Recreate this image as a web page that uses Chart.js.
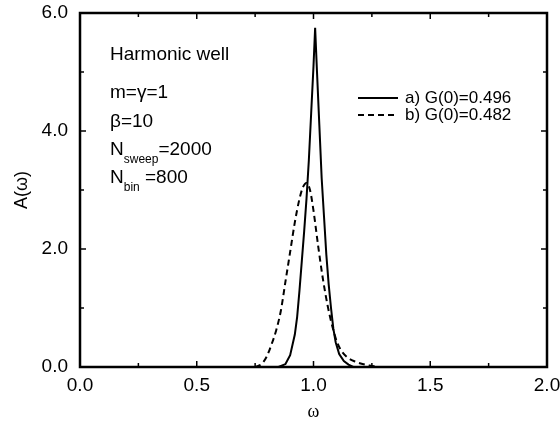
<!DOCTYPE html>
<html>
<head>
<meta charset="utf-8">
<script src="https://cdn.jsdelivr.net/npm/chart.js@4/dist/chart.umd.min.js"></script>
<style>
  html, body { margin: 0; padding: 0; background: #fff; }
  #wrap { width: 560px; height: 421px; }
</style>
</head>
<body>
<div id="wrap"><canvas id="spectrum" width="560" height="421"></canvas></div>
<script>
  // curve a) solid, G(0)=0.496
  const omegaA  = [0.75, 0.85, 0.88, 0.90, 0.92, 0.93, 0.94, 0.95, 0.96, 0.97, 0.98, 0.99, 1.00, 1.007,
                   1.015, 1.025, 1.035, 1.045, 1.055, 1.065, 1.075, 1.085, 1.095, 1.11, 1.13, 1.15, 1.17, 1.30];
  const valuesA = [0.00, 0.00, 0.05, 0.20, 0.55, 0.85, 1.30, 1.80, 2.30, 2.85, 3.50, 4.30, 5.10, 5.75,
                   5.00, 4.10, 3.20, 2.55, 1.90, 1.40, 1.00, 0.65, 0.42, 0.22, 0.10, 0.04, 0.00, 0.00];

  // curve b) dashed, G(0)=0.482
  const omegaB  = [0.75, 0.78, 0.80, 0.82, 0.84, 0.86, 0.88, 0.90, 0.92, 0.94, 0.955, 0.97, 0.985, 1.00,
                   1.02, 1.04, 1.06, 1.08, 1.10, 1.12, 1.15, 1.18, 1.21, 1.24, 1.28];
  const valuesB = [0.00, 0.06, 0.18, 0.38, 0.62, 0.95, 1.45, 1.95, 2.45, 2.85, 3.05, 3.12, 3.00, 2.65,
                   2.05, 1.50, 1.05, 0.70, 0.43, 0.27, 0.15, 0.09, 0.05, 0.025, 0.00];

  const seriesLabels = ['a) G(0)=0.496', 'b) G(0)=0.482'];
  const xLabelled = [0, 0.5, 1.0, 1.5, 2.0];
  const yLabelled = [0, 2, 4, 6];

  // text block in the upper left: [main, subscript, rest]
  const notes = [
    ['Harmonic well', '', ''],
    ['m=\u03b3=1', '', ''],
    ['\u03b2=10', '', ''],
    ['N', 'sweep', '=2000'],
    ['N', 'bin', ' =800']
  ];

  const FONT = '"Liberation Sans", Arial, Helvetica, sans-serif';

  function toPoints(xs, ys) {
    return xs.map((x, i) => ({ x: x, y: ys[i] }));
  }

  // no automatic label overhang, the layout padding alone places the frame
  function noOverhang(s) {
    s.paddingLeft = 0; s.paddingRight = 0; s.paddingTop = 0; s.paddingBottom = 0;
  }

  // plot box taken from the scales themselves
  function plotBox(chart) {
    const sx = chart.scales.x, sy = chart.scales.y;
    return {
      left: sx.getPixelForValue(sx.min),
      right: sx.getPixelForValue(sx.max),
      top: sy.getPixelForValue(sy.max),
      bottom: sy.getPixelForValue(sy.min)
    };
  }

  // inward tick marks + heavy frame
  const frameAndTicks = {
    id: 'frameAndTicks',
    afterDraw(chart) {
      const c = chart.ctx;
      const a = plotBox(chart);
      const sx = chart.scales.x, sy = chart.scales.y;
      c.save();
      c.strokeStyle = '#000';
      c.lineWidth = 1.5;
      const seg = (x1, y1, x2, y2) => {
        c.beginPath(); c.moveTo(x1, y1); c.lineTo(x2, y2); c.stroke();
      };
      sx.ticks.forEach(t => {
        const px = sx.getPixelForValue(t.value);
        const len = xLabelled.includes(t.value) ? 6 : 4;
        seg(px, a.bottom, px, a.bottom - len);
        seg(px, a.top, px, a.top + len);
      });
      sy.ticks.forEach(t => {
        const py = sy.getPixelForValue(t.value);
        const len = yLabelled.includes(t.value) ? 6 : 4;
        seg(a.left, py, a.left + len, py);
        seg(a.right, py, a.right - len, py);
      });
      c.lineWidth = 2.5;
      c.strokeRect(a.left, a.top, a.right - a.left, a.bottom - a.top);
      c.restore();
    }
  };

  // legend lines inside the plot, right of the peak
  const innerLegend = {
    id: 'innerLegend',
    afterDraw(chart) {
      const c = chart.ctx;
      const a = plotBox(chart);
      c.save();
      c.font = '17px ' + FONT;
      c.fillStyle = '#000';
      c.textBaseline = 'middle';
      chart.data.datasets.forEach((ds, i) => {
        const yy = a.top + 85 + i * 17;
        c.strokeStyle = '#000';
        c.lineWidth = ds.borderWidth;
        c.setLineDash(ds.borderDash || []);
        c.beginPath();
        c.moveTo(a.left + 278, yy);
        c.lineTo(a.left + 318, yy);
        c.stroke();
        c.setLineDash([]);
        c.fillText(ds.label, a.left + 325, yy);
      });
      c.restore();
    }
  };

  const textBlock = {
    id: 'textBlock',
    afterDraw(chart) {
      const c = chart.ctx;
      const a = plotBox(chart);
      const rows = [42, 80, 109, 137, 165];
      c.save();
      c.fillStyle = '#000';
      c.textBaseline = 'middle';
      notes.forEach((n, i) => {
        let xx = a.left + 30;
        const yy = a.top + rows[i];
        c.font = '19px ' + FONT;
        c.fillText(n[0], xx, yy);
        xx += c.measureText(n[0]).width;
        if (n[1]) {
          c.font = '12px ' + FONT;
          c.fillText(n[1], xx, yy + 10);
          xx += c.measureText(n[1]).width;
        }
        if (n[2]) {
          c.font = '19px ' + FONT;
          c.fillText(n[2], xx, yy);
        }
      });
      c.restore();
    }
  };

  new Chart(document.getElementById('spectrum'), {
    type: 'line',
    data: {
      datasets: [{
        label: seriesLabels[0],
        data: toPoints(omegaA, valuesA),
        borderColor: '#000',
        borderWidth: 2,
        pointRadius: 0,
        tension: 0,
        fill: false
      }, {
        label: seriesLabels[1],
        data: toPoints(omegaB, valuesB),
        borderColor: '#000',
        borderWidth: 2,
        borderDash: [6, 4],
        pointRadius: 0,
        cubicInterpolationMode: 'monotone',
        fill: false
      }]
    },
    options: {
      responsive: false,
      animation: false,
      layout: { padding: { top: 13, right: 13, left: 0, bottom: 0 } },
      plugins: {
        legend: { display: false },
        tooltip: { enabled: false }
      },
      scales: {
        x: {
          type: 'linear',
          min: 0,
          max: 2,
          grid: { display: false, drawTicks: false },
          border: { display: false },
          ticks: {
            stepSize: 0.25,
            autoSkip: false,
            maxRotation: 0,
            padding: 7,
            color: '#000',
            font: { family: FONT, size: 19 },
            callback: val => xLabelled.includes(val) ? val.toFixed(1) : ''
          },
          title: {
            display: true,
            text: '\u03c9',
            color: '#000',
            padding: 0,
            font: { family: '"Liberation Serif", "Times New Roman", serif', size: 18, lineHeight: 1 }
          },
          afterFit: s => { s.height = 54; noOverhang(s); }
        },
        y: {
          min: 0,
          max: 6,
          grid: { display: false, drawTicks: false },
          border: { display: false },
          ticks: {
            stepSize: 1,
            autoSkip: false,
            padding: 12,
            color: '#000',
            font: { family: FONT, size: 19 },
            callback: val => yLabelled.includes(val) ? val.toFixed(1) : ''
          },
          title: {
            display: true,
            text: 'A(\u03c9)',
            color: '#000',
            padding: { top: 13, bottom: 0 },
            font: { family: FONT, size: 18, lineHeight: 1 }
          },
          afterFit: s => { s.width = 80; noOverhang(s); }
        }
      }
    },
    plugins: [frameAndTicks, innerLegend, textBlock]
  });
</script>
</body>
</html>
